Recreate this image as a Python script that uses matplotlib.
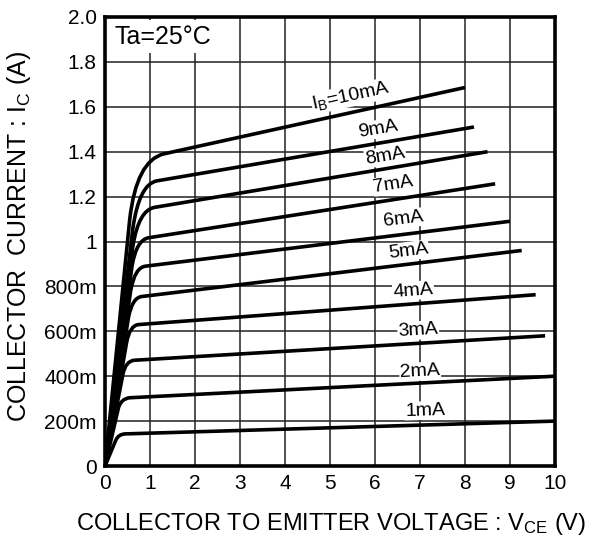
import numpy as np
import matplotlib
matplotlib.use("Agg")
import matplotlib.pyplot as plt
from matplotlib.path import Path
from matplotlib.patches import PathPatch

plt.rcParams['font.family'] = ['Liberation Sans', 'DejaVu Sans']
plt.rcParams['mathtext.fontset'] = 'custom'
plt.rcParams['mathtext.rm'] = 'Liberation Sans'
plt.rcParams['mathtext.it'] = 'Liberation Sans:italic'
plt.rcParams['mathtext.bf'] = 'Liberation Sans:bold'

# base current curves
ib_labels = ['1mA', '2mA', '3mA', '4mA', '5mA', '6mA', '7mA', '8mA', '9mA',
             r'$\mathregular{I_B}$=10mA']
# end of the steep saturation rise
rise_x = [0.24, 0.30, 0.40, 0.48, 0.52, 0.57, 0.60, 0.62, 0.62, 0.55]
rise_y = [0.115, 0.26, 0.41, 0.55, 0.66, 0.78, 0.89, 0.98, 1.06, 1.10]
# knee corner
knee_x = [0.30, 0.36, 0.46, 0.55, 0.60, 0.66, 0.70, 0.75, 0.76, 0.70]
knee_y = [0.142, 0.300, 0.468, 0.627, 0.750, 0.885, 1.010, 1.140, 1.255, 1.360]
# start of the active-region line
flat_x = [0.45, 0.55, 0.65, 0.75, 0.82, 0.90, 0.98, 1.10, 1.15, 1.30]
flat_y = [0.143, 0.304, 0.471, 0.630, 0.755, 0.890, 1.017, 1.152, 1.270, 1.390]
# end of each curve
end_x = [10.0, 10.0, 9.78, 9.57, 9.26, 9.00, 8.67, 8.50, 8.20, 8.00]
end_y = [0.200, 0.400, 0.580, 0.763, 0.960, 1.090, 1.257, 1.400, 1.510, 1.686]

# where the curve labels sit
lab_x = [7.12, 7.00, 6.96, 6.85, 6.74, 6.63, 6.41, 6.23, 6.07, 5.47]
lab_y = [0.247, 0.421, 0.604, 0.781, 0.957, 1.101, 1.254, 1.380, 1.500, 1.649]

x_ticks = np.arange(0, 11, 1)
x_ticklabels = [str(v) for v in x_ticks]
y_ticks = np.arange(0, 2.01, 0.2)
y_ticklabels = ['0', '200m', '400m', '600m', '800m', '1', '1.2', '1.4', '1.6', '1.8', '2.0']

fig = plt.figure(figsize=(5.9, 5.44), dpi=100)
ax = fig.add_axes([105/590, 78/544, 450/590, 449/544])

for i in range(len(ib_labels)):
    verts = [(0, 0), (rise_x[i], rise_y[i]), (knee_x[i], knee_y[i]),
             (flat_x[i], flat_y[i]), (end_x[i], end_y[i])]
    codes = [Path.MOVETO, Path.LINETO, Path.CURVE3, Path.CURVE3, Path.LINETO]
    ax.add_patch(PathPatch(Path(verts, codes), fill=False, lw=2.6,
                           edgecolor='black', capstyle='butt', zorder=3))
    slope = (end_y[i] - flat_y[i]) / (end_x[i] - flat_x[i])
    ax.text(lab_x[i], lab_y[i], ib_labels[i], fontsize=14, ha='center', va='center',
            rotation=np.degrees(np.arctan(slope)), transform_rotates_text=True,
            rotation_mode='anchor', zorder=2.5,
            bbox=dict(fc='white', ec='none', pad=0.5))

ax.text(1.29, 1.913, 'Ta=25°C', fontsize=18, ha='center', va='center', zorder=2.5,
        bbox=dict(fc='white', ec='none', pad=3.0))

ax.set_xlim(0, 10)
ax.set_ylim(0, 2.0)
ax.set_xticks(x_ticks)
ax.set_xticklabels(x_ticklabels)
ax.set_yticks(y_ticks)
ax.set_yticklabels(y_ticklabels)
ax.tick_params(length=0, labelsize=15, pad=6)
ax.grid(True, color='#222222', lw=1.1)
ax.set_axisbelow(True)
for s in ax.spines.values():
    s.set_linewidth(2.6)
    s.set_zorder(5)

fig.text(331/590, 1 - 524/544, r'COLLECTOR TO EMITTER VOLTAGE : $\mathregular{V_{CE}}$ (V)',
         fontsize=17, ha='center', va='center')
fig.text(19/590, 1 - 236/544, r'COLLECTOR  CURRENT : $\mathregular{I_C}$ (A)',
         fontsize=18, ha='center', va='center', rotation=90)

fig.savefig('out.png', dpi=100)
